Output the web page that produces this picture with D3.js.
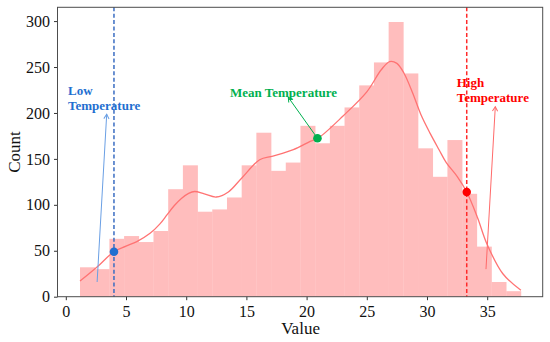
<!DOCTYPE html>
<html>
<head>
<meta charset="utf-8">
<script src="https://cdn.jsdelivr.net/npm/d3@7"></script>
<style>
  body { margin: 0; background: #fff; }
  svg text { font-family: "Liberation Serif", "Times New Roman", serif; }
</style>
</head>
<body>
<div id="chart"></div>
<script>
// histogram: 30 bins between binMin and binMax
var binMin = 1.18, binMax = 37.8;
var counts = [32, 30, 63, 66, 59.5, 71.5, 117, 143, 92.5, 95,
              108, 143, 178.5, 137, 146, 186, 167, 186, 206, 230,
              255, 299, 243, 161.5, 130.5, 170.5, 112, 54.5, 16, 6];

// kde curve (value, count)
var kdeX = [1.18, 2.57, 4.0, 5.0, 5.9, 7.0, 7.8, 8.4, 9.0, 9.6, 10.2, 10.7, 11.5, 12.5, 13.5, 14.6, 16.1, 17.2, 18.9, 20.3, 21.0, 23.05, 25.0, 26.2, 26.9, 27.5, 28.1, 28.8, 29.5, 30.25, 31.0, 31.6, 32.5, 33.3, 34.2, 34.96, 36.3, 37.8];
var kdeY = [17, 32, 49, 55, 60, 69, 79, 89, 99, 107, 112.5, 114.5, 112, 108.5, 114, 129, 149, 153, 160, 169, 173, 197, 223, 247, 256, 254, 243, 222, 198, 178, 160, 146, 131, 114, 86, 58, 25, 7];

var xTicks = [0, 5, 10, 15, 20, 25, 30, 35];
var yTicks = [0, 50, 100, 150, 200, 250, 300];

var markers = [
  {name: "Low", value: 4.0, count: 49, color: "#1f6fd0", line: "#3b6dc2"},
  {name: "Mean", value: 20.9, count: 172.5, color: "#00b04f", line: null},
  {name: "High", value: 33.3, count: 114, color: "#ff0000", line: "#ff2a2a"}
];

var W = 550, H = 342;
var margin = {top: 7.3, right: 7.3, bottom: 45.3, left: 57.5};

var x = d3.scaleLinear().domain([-0.69, 39.61]).range([margin.left, W - margin.right]);
var y = d3.scaleLinear().domain([0, 315]).range([H - margin.bottom, margin.top]);

var svg = d3.select('#chart').append('svg')
    .attr('width', W)
    .attr('height', H);

// arrowheads
var defs = svg.append('defs');
function arrowHead(id, col) {
  defs.append('marker')
      .attr('id', id)
      .attr('viewBox', '-6 -4 8 8')
      .attr('refX', 0).attr('refY', 0)
      .attr('markerWidth', 8).attr('markerHeight', 8)
      .attr('markerUnits', 'userSpaceOnUse')
      .attr('orient', 'auto')
      .append('path')
      .attr('d', 'M-4.5,-2.6L0,0L-4.5,2.6')
      .attr('fill', 'none')
      .attr('stroke', col)
      .attr('stroke-width', 1);
}
arrowHead('arLow', '#6a9fe4');
arrowHead('arMean', '#00b04f');
arrowHead('arHigh', '#ff6a6a');

var binW = (binMax - binMin) / counts.length;

svg.append('g').selectAll('rect')
    .data(counts)
    .enter()
    .append('rect')
    .attr('x', function(d, i) { return x(binMin + i * binW); })
    .attr('width', function(d, i) { return x(binMin + (i + 1) * binW) - x(binMin + i * binW) + 0.3; })
    .attr('y', function(d) { return y(d); })
    .attr('height', function(d) { return y(0) - y(d); })
    .attr('fill', '#ffbdbd');

var kde = kdeX.map(function(v, i) { return [v, kdeY[i]]; });
svg.append('path')
    .datum(kde)
    .attr('d', d3.line()
        .x(function(d) { return x(d[0]); })
        .y(function(d) { return y(d[1]); })
        .curve(d3.curveCatmullRom))
    .attr('fill', 'none')
    .attr('stroke', '#ff7373')
    .attr('stroke-width', 1.3);

// dashed threshold lines
svg.append('g').selectAll('line')
    .data(markers.filter(function(m) { return m.line; }))
    .enter()
    .append('line')
    .attr('x1', function(m) { return x(m.value); })
    .attr('x2', function(m) { return x(m.value); })
    .attr('y1', y.range()[1])
    .attr('y2', y.range()[0])
    .attr('stroke', function(m) { return m.line; })
    .attr('stroke-width', 1.5)
    .attr('stroke-dasharray', '4,2.4');

// axes
var xAxis = svg.append('g')
    .attr('transform', 'translate(0,' + y(0) + ')')
    .call(d3.axisBottom(x).tickValues(xTicks).tickSize(3.5).tickPadding(5));
var yAxis = svg.append('g')
    .attr('transform', 'translate(' + margin.left + ',0)')
    .call(d3.axisLeft(y).tickValues(yTicks).tickSize(3.5).tickPadding(4));

[xAxis, yAxis].forEach(function(a) {
  a.select('.domain').remove();
  a.selectAll('line').attr('stroke', '#333');
  a.selectAll('text').attr('font-size', '16px').attr('fill', '#111')
   .style('font-family', '"Liberation Serif", "Times New Roman", serif');
});

svg.append('rect')
    .attr('x', margin.left)
    .attr('y', margin.top)
    .attr('width', W - margin.left - margin.right)
    .attr('height', H - margin.top - margin.bottom)
    .attr('fill', 'none')
    .attr('stroke', '#4d4d4d')
    .attr('stroke-width', 1);

svg.append('text')
    .attr('x', x(19.5)).attr('y', 334)
    .attr('text-anchor', 'middle')
    .attr('font-size', '17px').attr('fill', '#111')
    .text('Value');

svg.append('text')
    .attr('transform', 'translate(20,152) rotate(-90)')
    .attr('text-anchor', 'middle')
    .attr('font-size', '17px').attr('fill', '#111')
    .text('Count');

// annotations
var notes = [
  {lines: ['Low', 'Temperature'], tx: 68, ty: 95, col: '#1f6fd0', from: [2.6, 16], to: [106.7, 114.3], arrow: 'arLow', ac: '#6a9fe4'},
  {lines: ['Mean Temperature'], tx: 230, ty: 96.5, col: '#00b04f', from: null, to: [288.3, 97.3], arrow: 'arMean', ac: '#00b04f'},
  {lines: ['High', 'Temperature'], tx: 456.7, ty: 87.3, col: '#ff0000', from: [34.9, 30], to: [495.3, 106.7], arrow: 'arHigh', ac: '#ff6a6a'}
];

notes.forEach(function(n, i) {
  var m = markers[i];
  var fx = n.from ? x(n.from[0]) : x(m.value);
  var fy = n.from ? y(n.from[1]) : y(m.count);
  svg.append('line')
      .attr('x1', fx).attr('y1', fy)
      .attr('x2', n.to[0]).attr('y2', n.to[1])
      .attr('stroke', n.ac)
      .attr('stroke-width', 1)
      .attr('marker-end', 'url(#' + n.arrow + ')');

  var t = svg.append('text')
      .attr('x', n.tx).attr('y', n.ty)
      .attr('font-size', '13px')
      .attr('font-weight', 'bold')
      .attr('fill', n.col);
  n.lines.forEach(function(s, k) {
    t.append('tspan')
        .attr('x', n.tx)
        .attr('dy', k === 0 ? 0 : 15)
        .text(s);
  });
});

// marker dots on the kde
svg.append('g').selectAll('circle')
    .data(markers)
    .enter()
    .append('circle')
    .attr('cx', function(m) { return x(m.value); })
    .attr('cy', function(m) { return y(m.count); })
    .attr('r', 4.3)
    .attr('fill', function(m) { return m.color; });
</script>
</body>
</html>
